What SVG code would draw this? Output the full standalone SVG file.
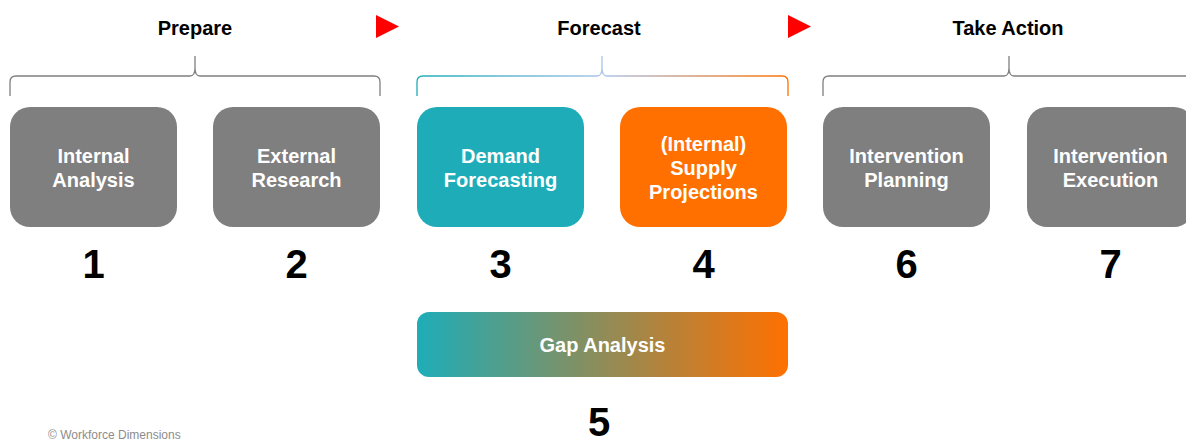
<svg xmlns="http://www.w3.org/2000/svg" width="1186" height="442" viewBox="0 0 1186 442">
<style>
.hdr{font-family:"Liberation Sans",Arial,sans-serif;font-weight:bold;font-size:20px;fill:#000;text-anchor:middle}
.lbl{font-family:"Liberation Sans",Arial,sans-serif;font-weight:bold;font-size:20px;fill:#fff;text-anchor:middle}
.num{font-family:"Liberation Sans",Arial,sans-serif;font-weight:bold;font-size:40px;fill:#000;text-anchor:middle}
.brace{fill:none;stroke:#7f7f7f;stroke-width:1.3}
.gray{fill:#7f7f7f}
.copy{font-family:"Liberation Sans",Arial,sans-serif;font-size:12px;fill:#8c8c8c}
</style>
<defs>
<linearGradient id="gapg" x1="0" y1="0" x2="1" y2="0">
<stop offset="0" stop-color="#1eadb8"/>
<stop offset="0.5" stop-color="#8f8c58"/>
<stop offset="1" stop-color="#ff7000"/>
</linearGradient>
<linearGradient id="braceg" gradientUnits="userSpaceOnUse" x1="417" y1="0" x2="788" y2="0">
<stop offset="0" stop-color="#1eadb8"/>
<stop offset="0.5" stop-color="#a9c4ea"/>
<stop offset="1" stop-color="#ff7000"/>
</linearGradient>
</defs>
<rect width="1186" height="442" fill="#fff"/>
<g id="headers">
<text class="hdr" x="195" y="35">Prepare</text>
<text class="hdr" x="599" y="35">Forecast</text>
<text class="hdr" x="1008" y="35">Take Action</text>
<polygon points="376,15 399,26.5 376,38" fill="#ff0000"/>
<polygon points="788,15 811,26.5 788,38" fill="#ff0000"/>
</g>
<g id="braces">
<path class="brace" d="M10,96 V82 Q10,76 16,76 H190 Q195,76 195,68 V56 V68 Q195,76 200,76 H374 Q380,76 380,82 V96"/>
<path class="brace" style="stroke:url(#braceg)" d="M417,96 V82 Q417,76 423,76 H597 Q602,76 602,68 V56 V68 Q602,76 607,76 H782 Q788,76 788,82 V96"/>
<path class="brace" d="M823,96 V82 Q823,76 829,76 H1004 Q1009,76 1009,68 V56 V68 Q1009,76 1014,76 H1188 Q1194,76 1194,82 V96"/>
</g>
<g id="node1">
<rect class="gray" x="10" y="107" width="167" height="120" rx="20"/>
<text class="lbl" x="93.5" y="163">Internal</text>
<text class="lbl" x="93.5" y="187">Analysis</text>
<text class="num" x="93.5" y="278">1</text>
</g>
<g id="node2">
<rect class="gray" x="213" y="107" width="167" height="120" rx="20"/>
<text class="lbl" x="296.5" y="163">External</text>
<text class="lbl" x="296.5" y="187">Research</text>
<text class="num" x="296.5" y="278">2</text>
</g>
<g id="node3">
<rect x="417" y="107" width="167" height="120" rx="20" fill="#1eadb8"/>
<text class="lbl" x="500.5" y="163">Demand</text>
<text class="lbl" x="500.5" y="187">Forecasting</text>
<text class="num" x="500.5" y="278">3</text>
</g>
<g id="node4">
<rect x="620" y="107" width="167" height="120" rx="20" fill="#ff7000"/>
<text class="lbl" x="703.5" y="151">(Internal)</text>
<text class="lbl" x="703.5" y="175">Supply</text>
<text class="lbl" x="703.5" y="199">Projections</text>
<text class="num" x="703.5" y="278">4</text>
</g>
<g id="node6">
<rect class="gray" x="823" y="107" width="167" height="120" rx="20"/>
<text class="lbl" x="906.5" y="163">Intervention</text>
<text class="lbl" x="906.5" y="187">Planning</text>
<text class="num" x="906.5" y="278">6</text>
</g>
<g id="node7">
<rect class="gray" x="1027" y="107" width="167" height="120" rx="20"/>
<text class="lbl" x="1110.5" y="163">Intervention</text>
<text class="lbl" x="1110.5" y="187">Execution</text>
<text class="num" x="1110.5" y="278">7</text>
</g>
<g id="node5">
<rect x="417" y="312" width="371" height="65" rx="12" fill="url(#gapg)"/>
<text class="lbl" x="602.5" y="352">Gap Analysis</text>
<text class="num" x="599" y="436">5</text>
</g>
<g id="connectors"></g>
<text class="copy" x="48" y="439">© Workforce Dimensions</text>
</svg>
